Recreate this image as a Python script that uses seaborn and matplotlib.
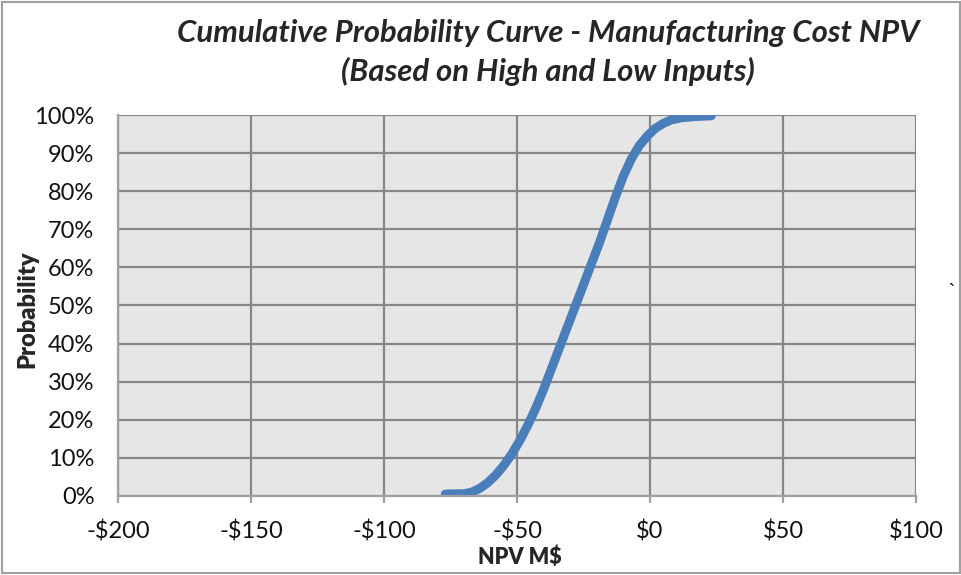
import numpy as np
import pandas as pd
import matplotlib
matplotlib.use("Agg")
import matplotlib.pyplot as plt
import seaborn as sns
from matplotlib.patches import Rectangle
from matplotlib.ticker import FuncFormatter

# values
npv = [-77, -70, -67, -64, -61, -58, -55, -52, -49, -46, -43, -40, -37, -34,
       -31, -28, -25, -22, -19, -16, -13, -10, -7, -4, -1, 2, 5, 8, 12, 17, 23]
prob = [0.005, 0.006, 0.01, 0.02, 0.035, 0.055, 0.08, 0.11, 0.145, 0.185,
        0.23, 0.28, 0.335, 0.39, 0.445, 0.50, 0.555, 0.61, 0.665, 0.725,
        0.785, 0.84, 0.885, 0.92, 0.945, 0.965, 0.978, 0.987, 0.993, 0.996,
        0.998]
x_ticks = [-200, -150, -100, -50, 0, 50, 100]
y_ticks = [0, 0.1, 0.2, 0.3, 0.4, 0.5, 0.6, 0.7, 0.8, 0.9, 1.0]

sns.set_style("white")
plt.rcParams["font.family"] = ["Lato", "DejaVu Sans"]

df = pd.DataFrame({"npv": npv, "prob": prob})

fig = plt.figure(figsize=(9.62, 5.75), dpi=100)
ax = fig.add_axes([0.1227, 0.1374, 0.8295, 0.6626])
ax.set_facecolor("#e6e6e6")

sns.lineplot(data=df, x="npv", y="prob", ax=ax, color="#4a7ebb",
             linewidth=6.5, solid_capstyle="round", solid_joinstyle="round",
             estimator=None, sort=False)

ax.set_xlim(-200, 100)
ax.set_ylim(0, 1)
ax.set_xticks(x_ticks)
ax.set_yticks(y_ticks)
ax.xaxis.set_major_formatter(FuncFormatter(lambda v, p: ("-$%d" % abs(v)) if v < 0 else "$%d" % v))
ax.yaxis.set_major_formatter(FuncFormatter(lambda v, p: "%d%%" % round(v * 100)))
ax.grid(True, color="#878787", linewidth=1.6)
ax.set_axisbelow(True)
for s in ["top", "right"]:
    ax.spines[s].set_visible(False)
ax.spines["left"].set_color("#a0a0a0")
ax.spines["bottom"].set_color("#a0a0a0")
ax.spines["left"].set_linewidth(1.6)
ax.spines["bottom"].set_linewidth(1.6)
ax.tick_params(axis="x", length=5, width=1.6, color="#a0a0a0", pad=13,
               labelsize=17, bottom=True, labelcolor="#111111")
ax.tick_params(axis="y", length=0, pad=17, labelsize=17, labelcolor="#111111")

ax.set_xlabel("NPV M$", fontsize=15.5, fontweight="heavy", va="center")
ax.set_ylabel("Probability", fontsize=17, fontweight="heavy", va="center")
ax.xaxis.set_label_coords(0.504, -0.16)
ax.yaxis.set_label_coords(-0.114, 0.49)

fig.text(0.57, 0.943, "Cumulative Probability Curve - Manufacturing Cost NPV",
         ha="center", va="center", fontsize=22.4, fontweight="bold", style="italic")
fig.text(0.57, 0.875, "(Based on High and Low Inputs)",
         ha="center", va="center", fontsize=22.4, fontweight="bold", style="italic")
fig.text(0.99, 0.493, "`", ha="center", va="center", fontsize=16)

fig.patches.append(Rectangle((0.002, 0.003), 0.996, 0.994, transform=fig.transFigure,
                             fill=False, edgecolor="#a0a0a0", linewidth=1.5))

fig.savefig("out.png", dpi=100)
